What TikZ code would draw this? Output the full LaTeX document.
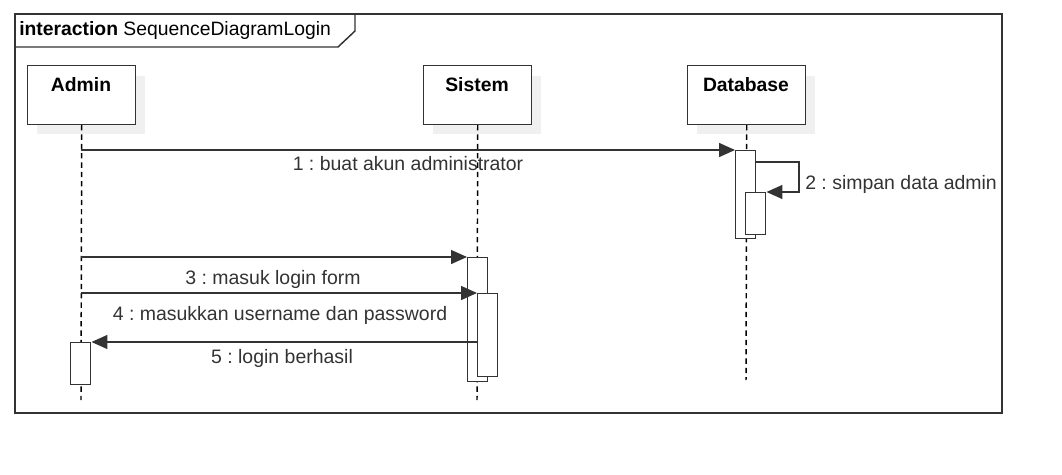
\documentclass[tikz,border=0pt]{standalone}
\usepackage{fontspec}
\setmainfont{Liberation Sans}
\usetikzlibrary{arrows.meta}
\frenchspacing
\definecolor{ln}{RGB}{51,51,51}
\definecolor{shd}{RGB}{240,240,240}
\tikzset{
  lnw/.style={line width=1.1pt, draw=ln},
  head/.style={lnw, fill=white, minimum width=81pt, minimum height=44pt, inner sep=0pt, anchor=north west},
  hdlabel/.style={font=\bfseries\fontsize{14.5}{16}\selectfont, text=black, inner sep=0pt},
  act/.style={lnw, fill=white, minimum width=15pt, inner sep=0pt, anchor=north west},
  life/.style={line width=1.1pt, draw=black, dash pattern=on 4pt off 3pt},
  msg/.style={lnw, -{Triangle[length=12pt,width=10.5pt]}},
  lbl/.style={font=\fontsize{14.6}{16}\selectfont, text=ln, inner sep=0pt},
}
\begin{document}
\frenchspacing
\begin{tikzpicture}[x=0.75pt,y=-0.75pt]
\useasboundingbox (0,0) rectangle (1062,474);
% frame
\draw[lnw] (15,14) rectangle (1002,413);
\draw[lnw] (15,47) -- (338,47) -- (355,31) -- (355,14);
\node[anchor=west, inner sep=0pt, font=\fontsize{14.5}{16}\selectfont] (title) at (19,31) {\textbf{interaction} SequenceDiagramLogin};
% shadows
\fill[shd] (37,76) rectangle (145,134);
\fill[shd] (433,76) rectangle (541,134);
\fill[shd] (697,76) rectangle (815,134);
% heads
\node[head, minimum width=81pt] (admin) at (27,65) {};
\node[head, minimum width=81pt] (sistem) at (423,65) {};
\node[head, minimum width=88.5pt] (db) at (687,65) {};
\node[hdlabel] at (81,85) {Admin};
\node[hdlabel] at (477,85) {Sistem};
\node[hdlabel] at (746,85) {Database};
% lifelines
\coordinate (aend) at (81,400);
\coordinate (send) at (477,400);
\coordinate (dend) at (746,380);
\draw[life] (admin.south) -- (aend);
\draw[life] (sistem.south) -- (send);
\draw[life] (db.south) -- (dend);
% activations
\node[act, minimum height=66pt] (dbA) at (735,150) {};
\node[act, minimum height=31.5pt] (dbB) at (745,192) {};
\node[act, minimum height=93pt] (sA) at (467,257) {};
\node[act, minimum height=62.25pt] (sB) at (477,293) {};
\node[act, minimum height=31.5pt] (aA) at (70,342) {};
% messages
\coordinate (m1s) at (81,150);
\draw[msg] (m1s) -- (dbA.north west);
\node[lbl] (l1) at (408,164) {1 : buat akun administrator};
\coordinate (m2a) at (755,162);
\coordinate (m2b) at (799,162);
\coordinate (m2c) at (799,192);
\draw[msg] (m2a) -- (m2b) -- (m2c) -- (dbB.north east);
\node[lbl, anchor=west] (l2) at (805,184) {2 : simpan data admin};
\coordinate (m3s) at (81,257);
\draw[msg] (m3s) -- (sA.north west);
\node[lbl] (l3) at (273,279) {3 : masuk login form};
\coordinate (m4s) at (81,293);
\draw[msg] (m4s) -- (sB.north west);
\node[lbl] (l4) at (280,315) {4 : masukkan username dan password};
\coordinate (m5s) at (477,342);
\draw[msg] (m5s) -- (aA.north east);
\node[lbl] (l5) at (282,358) {5 : login berhasil};
\end{tikzpicture}
\end{document}
